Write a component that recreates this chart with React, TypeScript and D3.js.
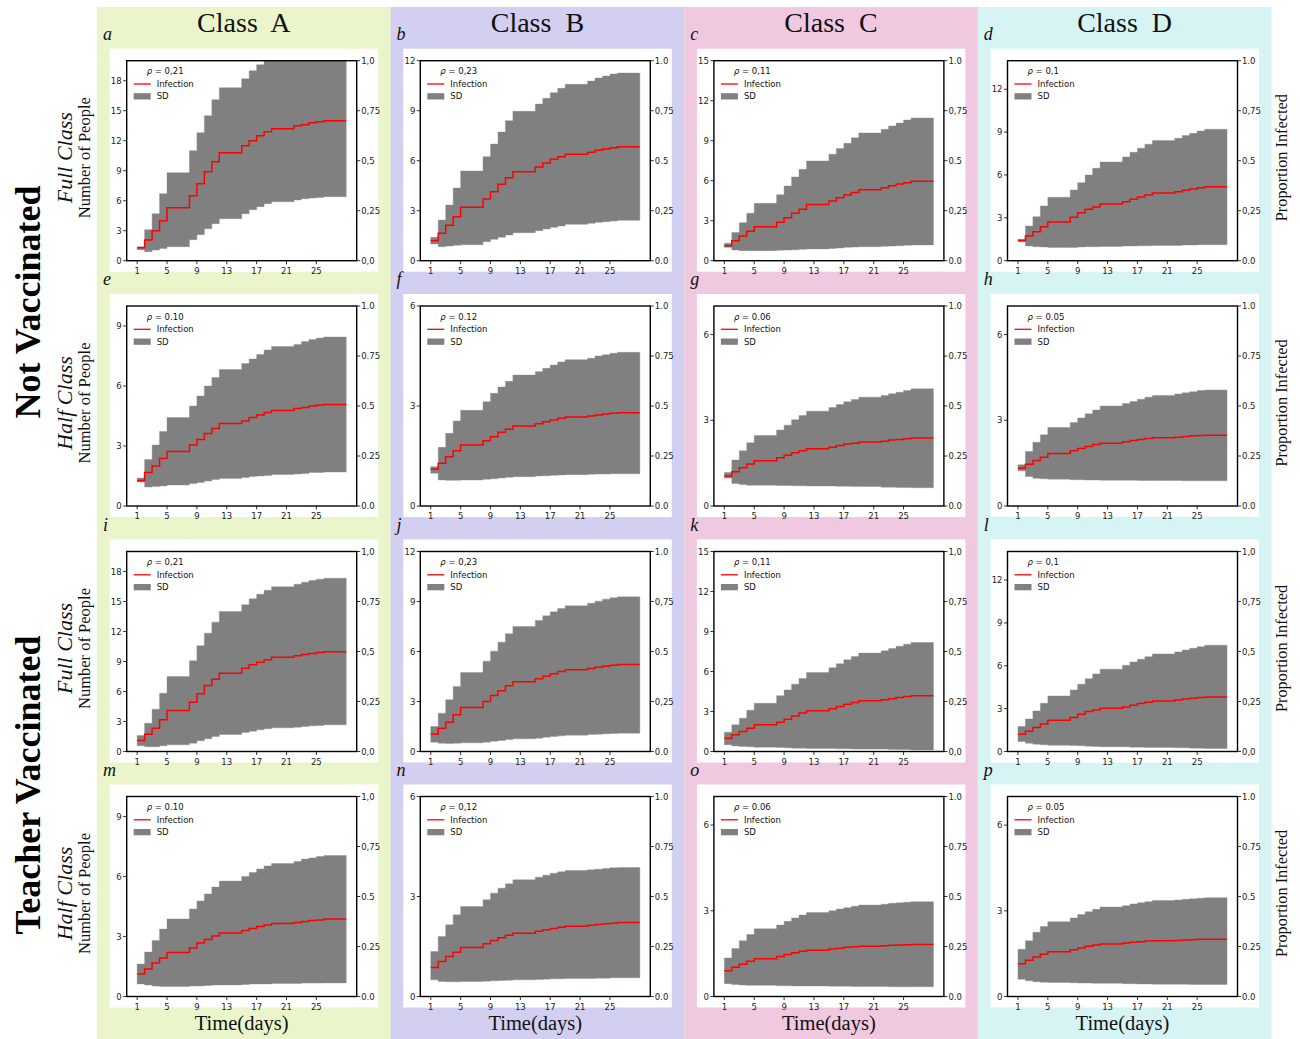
import React from "react";
import * as d3 from "d3";

// ---------- data ----------
const days = [1, 2, 3, 4, 5, 8, 9, 10, 11, 12, 15, 16, 17, 18, 19, 22, 23, 24, 25, 26];
const LAST_DAY = 29;
const xTicks = [1, 5, 9, 13, 17, 21, 25];
const propTicks = [0, 0.25, 0.5, 0.75, 1];
const propComma = ["0,0", "0,25", "0,5", "0,75", "1,0"];
const propDot = ["0.0", "0.25", "0.5", "0.75", "1.0"];
const propMixed = ["0.0", "0,25", "0.5", "0,75", "1.0"];
const propMixed2 = ["0.0", "0.25", "0.5", "0,75", "1,0"];

const classNames = ["Class  A", "Class  B", "Class  C", "Class  D"];
const colColors = ["#ebf5cb", "#d3cff1", "#f0c9e0", "#d6f4f4"];
const groupLabels = ["Not Vaccinated", "Teacher Vaccinated"];
const sizeLabels = ["Full Class", "Half Class", "Full Class", "Half Class"];

const aMean = [1.3, 2.07, 3.0, 4.0, 5.3, 6.5, 7.7, 8.9, 9.9, 10.8, 11.5, 12.0, 12.5, 12.9, 13.2, 13.5, 13.6, 13.8, 13.9, 14.0];
const aHigh = [1.4, 3.1, 4.7, 6.7, 8.8, 11.0, 12.8, 14.5, 16.1, 17.3, 18.2, 19.0, 19.6, 20.2, 20.7, 21.0, 21.2, 21.4, 21.5, 21.6];
const aLow = [1.1, 0.9, 1.07, 1.23, 1.4, 2.1, 2.6, 3.2, 3.7, 4.2, 4.7, 5.1, 5.4, 5.7, 5.9, 6.07, 6.2, 6.27, 6.33, 6.4];

const bMean = [1.2, 1.64, 2.12, 2.64, 3.2, 3.7, 4.14, 4.58, 4.98, 5.34, 5.62, 5.86, 6.08, 6.24, 6.38, 6.5, 6.62, 6.7, 6.78, 6.84];
const bHigh = [1.4, 2.44, 3.34, 4.36, 5.38, 6.24, 7.0, 7.72, 8.4, 8.96, 9.4, 9.74, 10.08, 10.34, 10.58, 10.78, 10.96, 11.08, 11.2, 11.26];
const bLow = [1.0, 0.84, 0.88, 0.92, 0.96, 1.14, 1.28, 1.4, 1.54, 1.68, 1.8, 1.9, 2.0, 2.08, 2.18, 2.24, 2.3, 2.34, 2.38, 2.42];

const cMean = [1.12, 1.5, 1.85, 2.2, 2.55, 2.88, 3.22, 3.55, 3.85, 4.22, 4.48, 4.72, 4.92, 5.12, 5.32, 5.48, 5.62, 5.75, 5.85, 5.95];
const cHigh = [1.3, 2.12, 2.85, 3.55, 4.3, 4.95, 5.6, 6.28, 6.85, 7.48, 7.98, 8.42, 8.8, 9.22, 9.58, 9.85, 10.1, 10.32, 10.55, 10.7];
const cLow = [1.0, 0.8, 0.75, 0.75, 0.75, 0.78, 0.8, 0.82, 0.85, 0.88, 0.92, 0.95, 1.0, 1.02, 1.05, 1.08, 1.1, 1.12, 1.15, 1.18];

const dMean = [1.42, 1.73, 2.03, 2.38, 2.71, 3.04, 3.36, 3.6, 3.76, 3.97, 4.13, 4.3, 4.46, 4.6, 4.74, 4.83, 4.93, 5.02, 5.11, 5.18];
const dHigh = [1.5, 2.43, 3.08, 3.83, 4.44, 4.95, 5.46, 6.0, 6.47, 6.91, 7.26, 7.59, 7.87, 8.15, 8.41, 8.57, 8.76, 8.92, 9.08, 9.2];
const dLow = [1.33, 1.03, 0.98, 0.96, 0.93, 0.93, 0.96, 0.98, 0.98, 1.0, 1.03, 1.03, 1.05, 1.05, 1.07, 1.07, 1.1, 1.1, 1.12, 1.12];

const eMean = [1.28, 1.67, 2.0, 2.37, 2.73, 3.05, 3.33, 3.63, 3.88, 4.12, 4.25, 4.42, 4.55, 4.68, 4.78, 4.87, 4.93, 5.0, 5.05, 5.07];
const eHigh = [1.4, 2.32, 3.05, 3.72, 4.42, 5.0, 5.5, 6.0, 6.42, 6.82, 7.12, 7.35, 7.58, 7.8, 7.97, 8.08, 8.22, 8.32, 8.4, 8.45];
const eLow = [1.2, 0.95, 0.97, 1.0, 1.05, 1.12, 1.18, 1.25, 1.32, 1.37, 1.42, 1.47, 1.5, 1.53, 1.58, 1.6, 1.63, 1.67, 1.68, 1.7];

const fMean = [1.1, 1.28, 1.48, 1.66, 1.83, 1.96, 2.08, 2.21, 2.3, 2.4, 2.47, 2.53, 2.58, 2.63, 2.67, 2.7, 2.73, 2.76, 2.78, 2.8];
const fHigh = [1.18, 1.76, 2.18, 2.55, 2.87, 3.13, 3.38, 3.57, 3.74, 3.93, 4.03, 4.13, 4.23, 4.32, 4.39, 4.43, 4.5, 4.54, 4.58, 4.61];
const fLow = [0.98, 0.78, 0.77, 0.77, 0.78, 0.8, 0.82, 0.84, 0.86, 0.88, 0.9, 0.91, 0.92, 0.93, 0.94, 0.95, 0.96, 0.96, 0.97, 0.97];

const gMean = [1.05, 1.2, 1.34, 1.47, 1.58, 1.69, 1.78, 1.86, 1.93, 2.0, 2.06, 2.12, 2.17, 2.2, 2.24, 2.27, 2.31, 2.33, 2.35, 2.38];
const gHigh = [1.17, 1.61, 1.93, 2.21, 2.47, 2.66, 2.83, 3.02, 3.17, 3.32, 3.45, 3.55, 3.65, 3.73, 3.81, 3.87, 3.93, 3.98, 4.04, 4.1];
const gLow = [0.98, 0.79, 0.75, 0.73, 0.73, 0.72, 0.72, 0.71, 0.71, 0.7, 0.7, 0.69, 0.69, 0.68, 0.68, 0.66, 0.66, 0.65, 0.65, 0.64];

const hMean = [1.32, 1.46, 1.59, 1.71, 1.84, 1.93, 2.01, 2.08, 2.15, 2.2, 2.25, 2.29, 2.33, 2.36, 2.39, 2.41, 2.43, 2.46, 2.47, 2.48];
const hHigh = [1.44, 1.91, 2.23, 2.49, 2.75, 2.92, 3.08, 3.23, 3.36, 3.5, 3.59, 3.66, 3.74, 3.81, 3.87, 3.92, 3.96, 4.0, 4.04, 4.06];
const hLow = [1.23, 1.03, 0.97, 0.95, 0.94, 0.92, 0.92, 0.91, 0.91, 0.9, 0.9, 0.9, 0.89, 0.89, 0.89, 0.89, 0.88, 0.88, 0.88, 0.88];

const iMean = [1.1, 1.73, 2.33, 3.17, 4.1, 4.93, 5.77, 6.6, 7.23, 7.83, 8.33, 8.67, 8.93, 9.17, 9.43, 9.57, 9.7, 9.8, 9.9, 9.97];
const iHigh = [1.6, 2.83, 4.23, 5.83, 7.5, 9.07, 10.57, 11.83, 12.93, 14.0, 14.67, 15.27, 15.73, 16.13, 16.47, 16.73, 16.93, 17.1, 17.23, 17.33];
const iLow = [0.57, 0.47, 0.47, 0.57, 0.67, 0.83, 1.07, 1.27, 1.5, 1.7, 1.9, 2.03, 2.17, 2.27, 2.37, 2.43, 2.5, 2.57, 2.6, 2.67];

const jMean = [1.04, 1.4, 1.76, 2.2, 2.64, 3.0, 3.36, 3.64, 3.94, 4.18, 4.36, 4.52, 4.66, 4.8, 4.9, 4.98, 5.06, 5.12, 5.18, 5.22];
const jHigh = [1.5, 2.3, 3.1, 3.9, 4.74, 5.42, 6.02, 6.56, 7.06, 7.5, 7.86, 8.14, 8.38, 8.58, 8.74, 8.9, 9.02, 9.14, 9.22, 9.28];
const jLow = [0.56, 0.5, 0.48, 0.5, 0.52, 0.56, 0.62, 0.66, 0.72, 0.76, 0.8, 0.86, 0.9, 0.94, 0.98, 1.02, 1.04, 1.06, 1.08, 1.1];

const kMean = [1.0, 1.25, 1.5, 1.75, 2.0, 2.2, 2.42, 2.67, 2.88, 3.05, 3.2, 3.38, 3.55, 3.68, 3.8, 3.88, 3.95, 4.05, 4.12, 4.18];
const kHigh = [1.45, 2.0, 2.5, 3.1, 3.62, 4.18, 4.62, 5.05, 5.48, 5.92, 6.28, 6.58, 6.88, 7.12, 7.38, 7.55, 7.72, 7.9, 8.05, 8.18];
const kLow = [0.5, 0.42, 0.38, 0.35, 0.32, 0.3, 0.28, 0.25, 0.25, 0.22, 0.22, 0.2, 0.2, 0.18, 0.18, 0.18, 0.15, 0.15, 0.15, 0.12];

const lMean = [1.21, 1.42, 1.68, 1.93, 2.19, 2.38, 2.61, 2.8, 2.91, 3.03, 3.12, 3.24, 3.36, 3.45, 3.54, 3.61, 3.68, 3.73, 3.78, 3.82];
const lHigh = [1.75, 2.28, 2.84, 3.38, 3.89, 4.31, 4.71, 5.1, 5.43, 5.76, 6.04, 6.27, 6.46, 6.64, 6.83, 6.97, 7.11, 7.23, 7.34, 7.44];
const lLow = [0.7, 0.58, 0.51, 0.47, 0.44, 0.42, 0.4, 0.37, 0.35, 0.33, 0.33, 0.3, 0.3, 0.28, 0.28, 0.26, 0.26, 0.23, 0.23, 0.21];

const mMean = [1.12, 1.38, 1.67, 1.92, 2.2, 2.43, 2.67, 2.85, 3.03, 3.18, 3.3, 3.4, 3.5, 3.58, 3.65, 3.7, 3.75, 3.8, 3.83, 3.87];
const mHigh = [1.62, 2.22, 2.8, 3.37, 3.88, 4.37, 4.77, 5.13, 5.47, 5.77, 6.0, 6.2, 6.38, 6.53, 6.65, 6.75, 6.87, 6.93, 7.0, 7.05];
const mLow = [0.63, 0.57, 0.52, 0.5, 0.5, 0.52, 0.53, 0.55, 0.57, 0.58, 0.6, 0.62, 0.63, 0.63, 0.65, 0.65, 0.67, 0.67, 0.67, 0.68];

const nMean = [0.87, 1.05, 1.2, 1.33, 1.47, 1.58, 1.68, 1.76, 1.84, 1.9, 1.96, 2.0, 2.04, 2.08, 2.11, 2.14, 2.16, 2.18, 2.2, 2.22];
const nHigh = [1.35, 1.8, 2.15, 2.45, 2.7, 2.9, 3.1, 3.25, 3.38, 3.5, 3.58, 3.64, 3.7, 3.74, 3.78, 3.8, 3.82, 3.84, 3.86, 3.87];
const nLow = [0.5, 0.45, 0.44, 0.44, 0.45, 0.46, 0.47, 0.48, 0.49, 0.5, 0.51, 0.52, 0.53, 0.53, 0.54, 0.54, 0.55, 0.55, 0.56, 0.56];

const oMean = [0.9, 1.02, 1.13, 1.23, 1.32, 1.4, 1.47, 1.53, 1.58, 1.62, 1.66, 1.69, 1.72, 1.74, 1.76, 1.78, 1.79, 1.8, 1.81, 1.82];
const oHigh = [1.35, 1.68, 1.95, 2.17, 2.37, 2.5, 2.63, 2.75, 2.85, 2.94, 3.0, 3.06, 3.11, 3.16, 3.2, 3.23, 3.26, 3.28, 3.3, 3.32];
const oLow = [0.45, 0.42, 0.4, 0.39, 0.39, 0.38, 0.38, 0.37, 0.37, 0.37, 0.36, 0.36, 0.36, 0.35, 0.35, 0.35, 0.34, 0.34, 0.34, 0.34];

const pMean = [1.15, 1.27, 1.38, 1.48, 1.57, 1.64, 1.7, 1.76, 1.8, 1.84, 1.87, 1.9, 1.92, 1.94, 1.95, 1.96, 1.98, 1.99, 2.0, 2.0];
const pHigh = [1.65, 1.95, 2.25, 2.45, 2.62, 2.75, 2.87, 2.97, 3.05, 3.13, 3.18, 3.24, 3.28, 3.32, 3.36, 3.38, 3.4, 3.42, 3.44, 3.46];
const pLow = [0.6, 0.55, 0.52, 0.5, 0.49, 0.48, 0.47, 0.47, 0.46, 0.46, 0.45, 0.45, 0.44, 0.44, 0.43, 0.43, 0.43, 0.42, 0.42, 0.42];

const letters = ["a", "b", "c", "d", "e", "f", "g", "h", "i", "j", "k", "l", "m", "n", "o", "p"];
const rhoLabels = ["0,21", "0,23", "0,11", "0,1", "0.10", "0.12", "0.06", "0.05", "0,21", "0,23", "0,11", "0,1", "0.10", "0,12", "0.06", "0.05"];
const yMaxes = [20, 12, 15, 14, 10, 6, 7, 7, 20, 12, 15, 14, 10, 6, 7, 7];
const means = [aMean, bMean, cMean, dMean, eMean, fMean, gMean, hMean, iMean, jMean, kMean, lMean, mMean, nMean, oMean, pMean];
const highs = [aHigh, bHigh, cHigh, dHigh, eHigh, fHigh, gHigh, hHigh, iHigh, jHigh, kHigh, lHigh, mHigh, nHigh, oHigh, pHigh];
const lows = [aLow, bLow, cLow, dLow, eLow, fLow, gLow, hLow, iLow, jLow, kLow, lLow, mLow, nLow, oLow, pLow];
const propLabelSets = [propComma, propMixed, propMixed, propMixed, propDot, propDot, propDot, propDot,
  propComma, propMixed, propComma, propComma, propMixed2, propDot, propDot, propDot];

// ---------- layout ----------
const COL0 = 97;
const COLW = 293.6;
const PW = 230;
const PH = 200;
const PLOT_LEFT0 = 126.7;
const rowTops = [60.7, 306, 551.5, 796.5];
const SERIF = "'Liberation Serif', 'Times New Roman', serif";
const SANS = "'DejaVu Sans', sans-serif";

function Panel({ idx }: { idx: number }) {
  const r = Math.floor(idx / 4);
  const c = idx % 4;
  const left = PLOT_LEFT0 + c * COLW;
  const top = rowTops[r];
  const x = d3.scaleLinear().domain([-0.4, 30.4]).range([left, left + PW]);
  const y = d3.scaleLinear().domain([0, yMaxes[idx]]).range([top + PH, top]);
  const yp = d3.scaleLinear().domain([0, 1]).range([top + PH, top]);
  const xs = [...days, LAST_DAY];
  const ext = (a: number[]) => [...a, a[a.length - 1]];
  const m = ext(means[idx]);
  const hi = ext(highs[idx]);
  const lo = ext(lows[idx]);
  const pts = xs.map((d, i) => ({ d, m: m[i], hi: hi[i], lo: lo[i] }));
  const area = d3
    .area<any>()
    .x((p) => x(p.d))
    .y0((p) => y(p.lo))
    .y1((p) => y(p.hi))
    .curve(d3.curveStepAfter);
  const line = d3
    .line<any>()
    .x((p) => x(p.d))
    .y((p) => y(p.m))
    .curve(d3.curveStepAfter);
  const yTicks = d3.range(0, yMaxes[idx] + 0.001, 3);
  const clipId = `clip-${idx}`;
  const lx = left + 7;
  return (
    <g>
      <rect x={left - 17} y={top - 12} width={PW + 38.5} height={PH + 23} fill="#ffffff" />
      <defs>
        <clipPath id={clipId}>
          <rect x={left} y={top} width={PW} height={PH} />
        </clipPath>
      </defs>
      <g clipPath={`url(#${clipId})`}>
        <path d={area(pts) || ""} fill="#808080" stroke="#8a8a8a" strokeWidth={0.4} />
        <path d={line(pts) || ""} fill="none" stroke="#ff0000" strokeWidth={1.5} />
      </g>
      {/* legend */}
      <text x={left + 20} y={top + 10.5} fontFamily={SANS} fontSize={8.5} dominantBaseline="central" fill="#111">
        <tspan fontStyle="italic">ρ</tspan>
        {" = " + rhoLabels[idx]}
      </text>
      <line x1={lx} x2={lx + 17} y1={top + 23.3} y2={top + 23.3} stroke="#ff0000" strokeWidth={1.3} />
      <text x={left + 30} y={top + 23.3} fontFamily={SANS} fontSize={8.5} dominantBaseline="central" fill="#111">
        Infection
      </text>
      <rect x={lx} y={top + 32.5} width={17} height={6.3} fill="#808080" />
      <text x={left + 30} y={top + 35.7} fontFamily={SANS} fontSize={8.5} dominantBaseline="central" fill="#111">
        SD
      </text>
      {/* left axis */}
      {yTicks.map((t) => (
        <g key={`yl${t}`}>
          <line x1={left - 3.5} x2={left} y1={y(t)} y2={y(t)} stroke="#000" strokeWidth={0.8} />
          <text x={left - 5} y={y(t)} textAnchor="end" dominantBaseline="central" fontFamily={SANS} fontSize={8.5} fill="#222">
            {t}
          </text>
        </g>
      ))}
      {/* bottom axis */}
      {xTicks.map((t) => (
        <g key={`x${t}`}>
          <line x1={x(t)} x2={x(t)} y1={top + PH} y2={top + PH + 3.5} stroke="#000" strokeWidth={0.8} />
          <text x={x(t)} y={top + PH + 10} textAnchor="middle" dominantBaseline="central" fontFamily={SANS} fontSize={8.5} fill="#222">
            {t}
          </text>
        </g>
      ))}
      {/* right axis */}
      {propTicks.map((t, i) => (
        <g key={`yr${t}`}>
          <line x1={left + PW} x2={left + PW + 3.5} y1={yp(t)} y2={yp(t)} stroke="#000" strokeWidth={0.8} />
          <text x={left + PW + 4.5} y={yp(t)} dominantBaseline="central" fontFamily={SANS} fontSize={8.5} fill="#222">
            {propLabelSets[idx][i]}
          </text>
        </g>
      ))}
      <rect x={left} y={top} width={PW} height={PH} fill="none" stroke="#000" strokeWidth={1.4} />
      {/* panel letter */}
      <text x={COL0 + c * COLW + 6} y={top - 21} fontFamily={SERIF} fontStyle="italic" fontSize={18} fill="#111">
        {letters[idx]}
      </text>
    </g>
  );
}

export default function App() {
  const panelIdx = d3.range(16);
  return (
    <div style={{ position: "absolute", left: 0, top: 0 }}>
      <svg width={1300} height={1039} style={{ display: "block", background: "#ffffff" }}>
        {colColors.map((col, c) => (
          <rect key={col} x={COL0 + c * COLW} y={7} width={COLW} height={1032} fill={col} />
        ))}
        {classNames.map((name, c) => (
          <text key={name} x={COL0 + c * COLW + COLW / 2} y={32} textAnchor="middle" fontFamily={SERIF} fontSize={28} fill="#111" style={{ whiteSpace: "pre" }}>
            {name}
          </text>
        ))}
        {panelIdx.map((i) => (
          <Panel key={i} idx={i} />
        ))}
        {groupLabels.map((g, i) => {
          const cy = i === 0 ? 302 : 785;
          return (
            <text key={g} transform={`translate(40, ${cy}) rotate(-90)`} textAnchor="middle" fontFamily={SERIF} fontWeight="bold" fontSize={36} fill="#000">
              {g}
            </text>
          );
        })}
        {sizeLabels.map((s, r) => {
          const cy = rowTops[r] + PH / 2 - 3;
          return (
            <g key={`s${r}`}>
              <text transform={`translate(72, ${cy}) rotate(-90)`} textAnchor="middle" fontFamily={SERIF} fontStyle="italic" fontSize={22} fill="#111">
                {s}
              </text>
              <text transform={`translate(89.5, ${cy}) rotate(-90)`} textAnchor="middle" fontFamily={SERIF} fontSize={16.5} fill="#111">
                Number of People
              </text>
              <text transform={`translate(1287, ${cy}) rotate(-90)`} textAnchor="middle" fontFamily={SERIF} fontSize={16.3} fill="#111">
                Proportion Infected
              </text>
            </g>
          );
        })}
        {classNames.map((name, c) => (
          <text key={`t${name}`} x={PLOT_LEFT0 + c * COLW + PW / 2} y={1030} textAnchor="middle" fontFamily={SERIF} fontSize={20.5} fill="#111">
            Time(days)
          </text>
        ))}
      </svg>
    </div>
  );
}
